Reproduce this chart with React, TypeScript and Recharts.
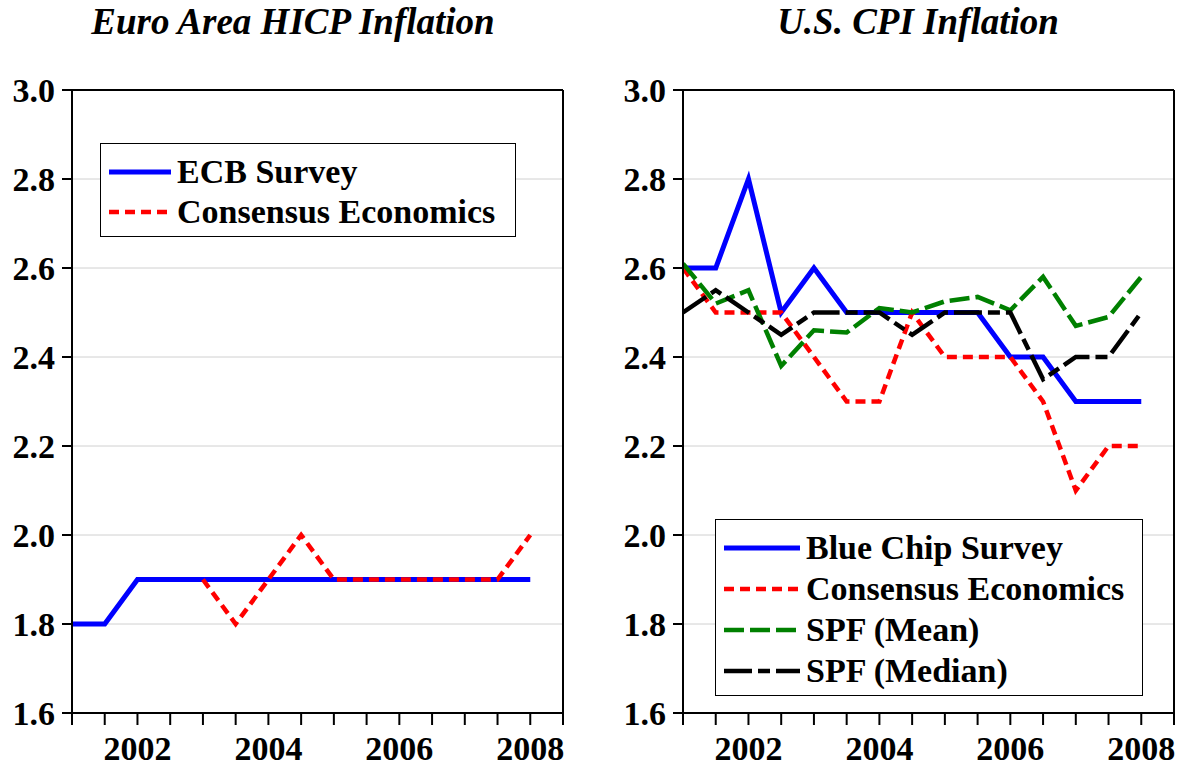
import React from 'react';
import { CartesianGrid, Legend, Line, LineChart, ReferenceLine, XAxis, YAxis } from 'recharts';

// half-year observations
const years = [2001, 2001.5, 2002, 2002.5, 2003, 2003.5, 2004, 2004.5, 2005, 2005.5, 2006, 2006.5, 2007, 2007.5, 2008];

const euroEcb = [1.8, 1.8, 1.9, 1.9, 1.9, 1.9, 1.9, 1.9, 1.9, 1.9, 1.9, 1.9, 1.9, 1.9, 1.9];
const euroConsensus = [null, null, null, null, 1.9, 1.8, 1.9, 2.0, 1.9, 1.9, 1.9, 1.9, 1.9, 1.9, 2.0];

const usBlueChip = [2.6, 2.6, 2.8, 2.5, 2.6, 2.5, 2.5, 2.5, 2.5, 2.5, 2.4, 2.4, 2.3, 2.3, 2.3];
const usConsensus = [2.6, 2.5, 2.5, 2.5, 2.4, 2.3, 2.3, 2.5, 2.4, 2.4, 2.4, 2.3, 2.1, 2.2, 2.2];
const usSpfMean = [2.61, 2.52, 2.55, 2.38, 2.46, 2.455, 2.51, 2.5, 2.525, 2.535, 2.505, 2.58, 2.47, 2.49, 2.58];
const usSpfMedian = [2.5, 2.55, 2.5, 2.45, 2.5, 2.5, 2.5, 2.45, 2.5, 2.5, 2.5, 2.35, 2.4, 2.4, 2.5];

const yTicks = [1.6, 1.8, 2.0, 2.2, 2.4, 2.6, 2.8, 3.0];
const xTicks = [2001, 2001.5, 2002, 2002.5, 2003, 2003.5, 2004, 2004.5, 2005, 2005.5, 2006, 2006.5, 2007, 2007.5, 2008, 2008.5];
const xLabels = [2002, 2004, 2006, 2008];

const FONT = '"Liberation Serif", "Times New Roman", serif';

type Series = {
  key: string;
  name: string;
  color: string;
  width: number;
  dash?: string;
  values: (number | null)[];
};

const euroSeries: Series[] = [
  { key: 'ecb', name: 'ECB Survey', color: '#0000ff', width: 5, values: euroEcb },
  { key: 'ce', name: 'Consensus Economics', color: '#ff0000', width: 4.5, dash: '10 6', values: euroConsensus },
];

const usSeries: Series[] = [
  { key: 'bc', name: 'Blue Chip Survey', color: '#0000ff', width: 5, values: usBlueChip },
  { key: 'ce', name: 'Consensus Economics', color: '#ff0000', width: 4.5, dash: '10 6', values: usConsensus },
  { key: 'mean', name: 'SPF (Mean)', color: '#008000', width: 4.5, dash: '20 6', values: usSpfMean },
  { key: 'median', name: 'SPF (Median)', color: '#000000', width: 4.5, dash: '28 6 12 6', values: usSpfMedian },
];

const buildRows = (series: Series[]) =>
  years.map((year, i) => {
    const row: Record<string, number | null> = { year };
    series.forEach((s) => (row[s.key] = s.values[i]));
    return row;
  });

const tickStyle = { fill: '#000', fontSize: 34, fontWeight: 'bold', fontFamily: FONT };

interface BoxProps {
  series: Series[];
  width: number;
  height: number;
  sample: number;
  rowH: number;
  padTop: number;
}

const LegendBox = ({ series, width, height, sample, rowH, padTop }: BoxProps) => (
  <div
    style={{
      width,
      height,
      boxSizing: 'border-box',
      border: '1.5px solid #000',
      background: '#fff',
      paddingTop: padTop,
      paddingLeft: 8,
    }}
  >
    {series.map((s) => (
      <div key={s.key} style={{ display: 'flex', alignItems: 'center', height: rowH }}>
        <svg width={sample} height={8} style={{ marginRight: 6 }}>
          <line x1={0} y1={4} x2={sample} y2={4} stroke={s.color} strokeWidth={s.width} strokeDasharray={s.dash} />
        </svg>
        <span style={{ fontFamily: FONT, fontWeight: 'bold', fontSize: 34, lineHeight: `${rowH}px`, color: '#000', whiteSpace: 'nowrap' }}>
          {s.name}
        </span>
      </div>
    ))}
  </div>
);

interface PanelProps {
  title: string;
  titleCenter: number;
  left: number;
  width: number;
  yWidth: number;
  right: number;
  series: Series[];
  legend: BoxProps & { x: number; y: number };
}

const Panel = ({ title, titleCenter, left, width, yWidth, right, series, legend }: PanelProps) => {
  const rows = buildRows(series);
  return (
    <>
      <div
        style={{
          position: 'absolute',
          left: titleCenter - 300,
          width: 600,
          top: 3,
          textAlign: 'center',
          fontFamily: FONT,
          fontWeight: 'bold',
          fontStyle: 'italic',
          fontSize: 37,
          lineHeight: '37px',
        }}
      >
        {title}
      </div>
      <div style={{ position: 'absolute', left, top: 0 }}>
        <LineChart width={width} height={766} data={rows} margin={{ top: 90, right, left: 0, bottom: 0 }}>
          <CartesianGrid stroke="#d0d0d0" strokeWidth={1} vertical={false} />
          <XAxis
            dataKey="year"
            type="number"
            domain={[2001, 2008.5]}
            ticks={xTicks}
            interval={0}
            height={53}
            tickSize={12}
            tickMargin={11}
            tick={tickStyle}
            tickFormatter={(v: number) => (xLabels.includes(v) ? String(v) : '')}
            stroke="#000"
            strokeWidth={2}
            allowDataOverflow
          />
          <YAxis
            type="number"
            domain={[1.6, 3.0]}
            ticks={yTicks}
            interval={0}
            width={yWidth}
            tickSize={10}
            tickMargin={7}
            tick={tickStyle}
            tickFormatter={(v: number) => v.toFixed(1)}
            stroke="#000"
            strokeWidth={2}
            allowDataOverflow
          />
          {series.map((s) => (
            <Line
              key={s.key}
              type="linear"
              dataKey={s.key}
              name={s.name}
              stroke={s.color}
              strokeWidth={s.width}
              strokeDasharray={s.dash}
              dot={false}
              activeDot={false}
              connectNulls={false}
              isAnimationActive={false}
            />
          ))}
          <ReferenceLine y={3.0} stroke="#000" strokeWidth={2} />
          <ReferenceLine x={2008.5} stroke="#000" strokeWidth={2} />
          <Legend
            layout="vertical"
            align="center"
            verticalAlign="middle"
            wrapperStyle={{ left: legend.x, top: legend.y, width: legend.width, height: legend.height }}
            content={() => <LegendBox {...legend} />}
          />
        </LineChart>
      </div>
    </>
  );
};

export default function App() {
  return (
    <div style={{ position: 'absolute', left: 0, top: 0, width: 1181, height: 766, background: '#fff' }}>
      <Panel
        title="Euro Area HICP Inflation"
        titleCenter={293}
        left={0}
        width={600}
        yWidth={72}
        right={37}
        series={euroSeries}
        legend={{ series: euroSeries, x: 100, y: 143, width: 416, height: 94, sample: 62, rowH: 40, padTop: 8 }}
      />
      <Panel
        title="U.S. CPI Inflation"
        titleCenter={918}
        left={600}
        width={581}
        yWidth={83}
        right={7}
        series={usSeries}
        legend={{ series: usSeries, x: 115, y: 519, width: 428, height: 177, sample: 76, rowH: 41, padTop: 7 }}
      />
    </div>
  );
}
